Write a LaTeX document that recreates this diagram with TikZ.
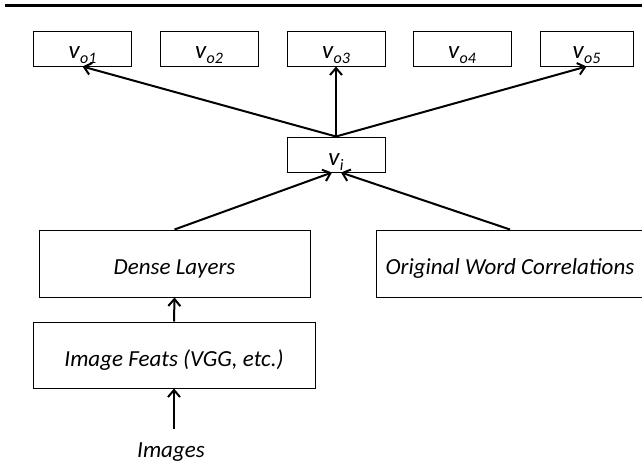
\documentclass[tikz,border=0pt]{standalone}
\usepackage{fontspec}
\setmainfont{Carlito}
\usetikzlibrary{arrows.meta}
% italic v with a smaller lowered subscript
\newcommand{\vlabel}[1]{{\fontsize{25}{25}\selectfont\itshape v\kern0.5pt\raisebox{-5pt}{\fontsize{16}{16}\selectfont #1}}}
\begin{document}
\begin{tikzpicture}[x=1pt,y=-1pt,
  box/.style={draw, line width=1pt, inner sep=0pt, align=center,
    font=\fontsize{23}{23}\selectfont\itshape},
  outbox/.style={box, minimum width=98pt, text height=27pt, text depth=8pt},
  bigbox/.style={box, text height=44pt, text depth=23pt},
  arr/.style={line width=2pt, -{Straight Barb[length=7pt,width=12pt]}}]
\useasboundingbox (0,0) rectangle (642,463);

% heading rule
\coordinate (r1) at (5,5.5);
\coordinate (r2) at (642,5.5);
\draw[line width=3pt] (r1) -- (r2);

% output vectors
\node[outbox] (o1) at (82.5,48.5) {\vlabel{o1}};
\node[outbox] (o2) at (209,48.5) {\vlabel{o2}};
\node[outbox] (o3) at (336,48.5) {\vlabel{o3}};
\node[outbox] (o4) at (462,48.5) {\vlabel{o4}};
\node[outbox, minimum width=93pt] (o5) at (586.5,48.5) {\vlabel{o5}};

% input vector
\node[box, minimum width=98pt, text height=28pt, text depth=7pt] (vi) at (336,154.5) {\vlabel{i}};

% lower blocks
\node[bigbox, minimum width=271pt] (dense) at (174.5,263.5) {Dense Layers};
\node[bigbox, minimum width=268pt] (owc) at (510,263.5) {Original Word Correlations};
\node[box, minimum width=282pt, text height=44pt, text depth=22pt] (feats) at (174,355) {Image Feats (VGG, etc.)};
\node[inner sep=0pt, text height=28pt, text depth=4pt, anchor=base,
  font=\fontsize{23}{23}\selectfont\itshape] (img) at (171,457) {Images};

% connections
\draw[arr] (vi.north) -- (o1.south);
\draw[arr] (vi.north) -- (o3.south);
\draw[arr] (vi.north) -- (o5.south);
\draw[arr] (dense.north) -- ([xshift=-4pt]vi.south);
\draw[arr] (owc.north) -- ([xshift=5pt]vi.south);
\draw[arr] (feats.north) -- (dense.south);
\draw[arr] (img.north -| feats.south) -- (feats.south);
\end{tikzpicture}
\end{document}
